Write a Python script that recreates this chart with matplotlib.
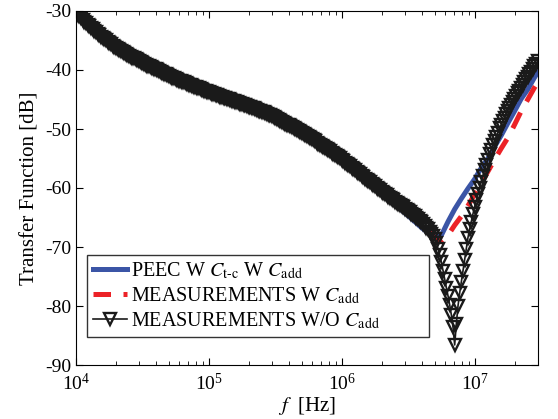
import numpy as np
import matplotlib
matplotlib.use("Agg")
import matplotlib.pyplot as plt

plt.rcParams['font.family'] = 'serif'
plt.rcParams['font.serif'] = ['Liberation Serif', 'DejaVu Serif']
plt.rcParams['mathtext.fontset'] = 'stix'
plt.rcParams['axes.unicode_minus'] = False

# measurement W/O C_add, log sweep 1e4 .. 3e7 Hz
freq_wo = np.logspace(4, 7.475, 279)
db_wo = [
    -30.3, -30.6, -30.9, -31.2, -31.5, -31.8, -32.1, -32.35, -32.6, -32.85,
    -33.1, -33.35, -33.6, -33.85, -34.1, -34.35, -34.6, -34.8, -35.0, -35.2,
    -35.4, -35.65, -35.9, -36.1, -36.3, -36.45, -36.6, -36.75, -36.9, -37.1,
    -37.3, -37.45, -37.6, -37.75, -37.9, -38.05, -38.2, -38.35, -38.5, -38.65,
    -38.8, -38.95, -39.1, -39.25, -39.4, -39.5, -39.6, -39.75, -39.9, -40.05,
    -40.2, -40.35, -40.5, -40.6, -40.7, -40.85, -41.0, -41.15, -41.3, -41.4,
    -41.5, -41.65, -41.8, -41.9, -42.0, -42.1, -42.2, -42.35, -42.5, -42.6,
    -42.7, -42.8, -42.9, -43.0, -43.1, -43.25, -43.4, -43.5, -43.6, -43.7,
    -43.8, -43.9, -44.0, -44.1, -44.2, -44.3, -44.4, -44.5, -44.6, -44.7,
    -44.8, -44.9, -45.0, -45.1, -45.2, -45.3, -45.4, -45.5, -45.6, -45.7,
    -45.8, -45.9, -46.0, -46.1, -46.2, -46.3, -46.4, -46.5, -46.6, -46.75,
    -46.9, -47.0, -47.1, -47.2, -47.3, -47.45, -47.6, -47.7, -47.8, -47.95,
    -48.1, -48.25, -48.4, -48.6, -48.8, -48.95, -49.1, -49.25, -49.4, -49.55,
    -49.7, -49.85, -50.0, -50.2, -50.4, -50.55, -50.7, -50.85, -51.0, -51.2,
    -51.4, -51.55, -51.7, -51.9, -52.1, -52.3, -52.5, -52.65, -52.8, -53.0,
    -53.2, -53.4, -53.6, -53.8, -54.0, -54.2, -54.4, -54.6, -54.8, -55.0,
    -55.2, -55.45, -55.7, -55.9, -56.1, -56.35, -56.6, -56.8, -57.0, -57.25,
    -57.5, -57.7, -57.9, -58.15, -58.4, -58.6, -58.8, -59.05, -59.3, -59.5,
    -59.7, -59.95, -60.2, -60.4, -60.6, -60.8, -61.0, -61.25, -61.5, -61.7,
    -61.9, -62.1, -62.3, -62.5, -62.7, -62.9, -63.1, -63.3, -63.5, -63.7,
    -63.9, -64.15, -64.4, -64.6, -64.8, -65.05, -65.3, -65.55, -65.8, -66.1,
    -66.4, -66.7, -67.0, -67.4, -67.8, -68.2, -68.6,
    -69.4, -70.3, -71.4, -72.6, -74.0, -75.5, -76.9, -78.3, -79.8, -81.5,
    -83.6, -86.6, -83.0, -80.0, -77.8, -75.9, -74.0, -72.2, -70.3, -68.4,
    -67.0, -65.7, -64.4, -63.2, -62.1, -61.1, -60.0, -58.9, -57.9, -57.0,
    -56.1, -55.2, -54.3, -53.5, -52.7, -52.0, -51.3, -50.6, -49.9, -49.3,
    -48.7, -48.1, -47.5, -46.9, -46.4, -45.9, -45.4, -44.9, -44.4, -43.9,
    -43.5, -43.0, -42.5, -42.1, -41.6, -41.2, -40.7, -40.3, -39.8, -39.4,
    -39.0, -38.5,
]

# PEEC simulation and measurement W C_add
freq_sim = [1e4, 10**4.1, 10**4.2, 10**4.3, 10**4.4, 10**4.5, 10**4.6, 10**4.7,
            10**4.8, 10**4.9, 1e5, 10**5.1, 10**5.2, 10**5.3, 10**5.4, 10**5.5,
            10**5.6, 10**5.7, 10**5.8, 10**5.9, 1e6, 10**6.1, 10**6.2, 10**6.3,
            10**6.4, 10**6.5, 10**6.55, 10**6.6, 10**6.65, 10**6.7, 10**6.75,
            10**6.8, 10**6.85, 10**6.9, 10**6.95, 1e7, 10**7.05, 10**7.1,
            10**7.15, 10**7.2, 10**7.25, 10**7.3, 10**7.35, 10**7.4, 10**7.45,
            10**7.475]
db_peec = [-30.3, -32.6, -34.6, -36.3, -37.6, -38.8, -39.9, -41.0,
           -42.0, -42.9, -43.8, -44.6, -45.4, -46.2, -47.1, -48.1,
           -49.3, -50.6, -52.0, -53.6, -55.3, -57.1, -59.0, -60.9,
           -62.8, -64.7, -65.7, -66.7, -67.6, -68.3, -68.0,
           -65.7, -63.6, -61.8, -60.1, -58.5, -56.6, -55.0,
           -53.0, -51.1, -49.0, -47.0, -44.9, -43.3, -41.3,
           -40.4]
db_meas_w = [-30.3, -32.6, -34.6, -36.3, -37.6, -38.8, -39.9, -41.0,
             -42.0, -42.9, -43.8, -44.6, -45.4, -46.2, -47.1, -48.1,
             -49.0, -50.2, -51.5, -53.0, -54.6, -56.4, -58.2, -60.0,
             -61.9, -63.8, -64.9, -66.1, -67.3, -68.4, -69.0,
             -68.0, -66.3, -64.8, -63.0, -61.1, -59.2, -57.2,
             -55.2, -53.3, -51.5, -49.3, -47.0, -45.0, -43.0,
             -42.1]

fig = plt.figure(figsize=(5.58, 4.19), dpi=100)
ax = fig.add_axes([76/558, 1 - 365/419, 462/558, 354/419])

ax.semilogx(freq_sim, db_peec, color='#3b55a6', lw=3.6,
            label='PEEC W $C_{\\mathrm{t\u2010c}}$ W $C_{\\mathrm{add}}$')
ax.semilogx(freq_sim, db_meas_w, color='#ec2227', lw=3.6, dashes=(3.5, 2.5),
            label='MEASUREMENTS W $C_{\\mathrm{add}}$')
ax.semilogx(freq_wo, db_wo, color='#1a1a1a', lw=1.2, marker='v', ms=9,
            mfc='none', mec='#1a1a1a', mew=1.7,
            label='MEASUREMENTS W/O $C_{\\mathrm{add}}$')

ax.set_xlim(1e4, 3e7)
ax.set_ylim(-90, -30)
ax.set_yticks(np.arange(-90, -29, 10))
ax.tick_params(which='both', direction='in', top=True, right=True, labelsize=14)
ax.tick_params(which='major', length=5)
ax.tick_params(which='minor', length=3)
ax.tick_params(axis='x', pad=6)
ax.set_xlabel('$f$  [Hz]', fontsize=15, labelpad=0)
ax.set_ylabel('Transfer Function [dB]', fontsize=15, labelpad=4)

leg = ax.legend(loc='lower left', mode='expand',
                bbox_to_anchor=(11/462, 28/354, 342/462, 82/354), borderaxespad=0,
                fontsize=14.5, fancybox=False, framealpha=1, edgecolor='#333333',
                handlelength=1.7, handletextpad=0.2, labelspacing=0.2,
                borderpad=0.3, markerscale=0.9)
leg.get_frame().set_linewidth(1.0)

fig.savefig('out.png', dpi=100)
